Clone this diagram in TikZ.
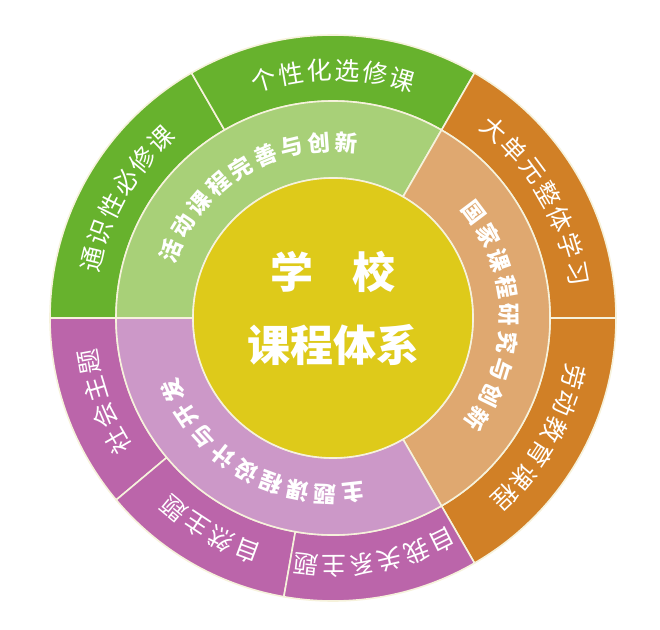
\documentclass[tikz,border=0pt]{standalone}
\usepackage{fontspec}
\newfontfamily\cjk{Noto Sans CJK SC}
\definecolor{cGreen}{HTML}{67B22D}
\definecolor{cLGreen}{HTML}{A8D078}
\definecolor{cYellow}{HTML}{DECA1A}
\definecolor{cTan}{HTML}{DFA870}
\definecolor{cOrange}{HTML}{D18026}
\definecolor{cLPurple}{HTML}{CC98C8}
\definecolor{cPurple}{HTML}{BB65AA}
\definecolor{cLine}{HTML}{F6F2DC}
\newcommand\ringsector[5]{% #1 r1, #2 r2, #3 a1, #4 a2, #5 color
  \filldraw[sector, fill=#5] (#3:#1pt) arc[start angle=#3, end angle=#4, radius=#1pt] -- (#4:#2pt) arc[start angle=#4, end angle=#3, radius=#2pt] -- cycle;}
\newcommand\arctext[6]{% #1 name, #2 radius, #3 start angle, #4 step, #5 style, #6 chars
  \foreach \ch [count=\i from 0] in {#6} {
    \pgfmathsetmacro\ang{#3-\i*#4}
    \node[#5, rotate=\ang-90] (#1-\i) at (\ang:#2pt) {\ch};
  }}
\begin{document}
\begin{tikzpicture}[
  sector/.style={draw=cLine, line width=1.6pt, line join=round},
  midtext/.style={text=white, font=\cjk\bfseries\fontsize{22.5}{22.5}\selectfont, inner sep=0pt},
  outtext/.style={text=white, font=\cjk\fontsize{25}{25}\selectfont, inner sep=0pt},
  titletext/.style={text=white, font=\cjk\bfseries\fontsize{43}{43}\selectfont, inner sep=0pt}]
\useasboundingbox (0,0) rectangle (660pt,629pt);
\begin{scope}[shift={(333pt,311pt)}]
  % outer ring
  \ringsector{217}{283}{120}{180}{cGreen}
  \ringsector{217}{283}{60}{120}{cGreen}
  \ringsector{217}{283}{0}{60}{cOrange}
  \ringsector{217}{283}{-60}{0}{cOrange}
  \ringsector{217}{283}{180}{220}{cPurple}
  \ringsector{217}{283}{220}{260}{cPurple}
  \ringsector{217}{283}{260}{300}{cPurple}
  % middle ring
  \ringsector{140}{217}{60}{180}{cLGreen}
  \ringsector{140}{217}{-60}{60}{cTan}
  \ringsector{140}{217}{180}{300}{cLPurple}
  % centre
  \filldraw[sector, fill=cYellow] (0,0) circle[radius=140pt];
  \node[titletext] (title1) at (0pt,46pt) {学\hspace{0.9em}校};
  \node[titletext] (title2) at (0pt,-27pt) {课程体系};
  % middle ring texts
  \arctext{m1}{176}{157.5}{9}{midtext}{活,动,课,程,完,善,与,创,新}
  \arctext{m2}{176}{37}{9}{midtext}{国,家,课,程,研,究,与,创,新}
  \arctext{m3}{176}{276.5}{9}{midtext}{主,题,课,程,设,计,与,开,发}
  % outer ring texts
  \arctext{o1}{248}{166.25}{6.5}{outtext}{通,识,性,必,修,课}
  \arctext{o2}{248}{106.25}{6.5}{outtext}{个,性,化,选,修,课}
  \arctext{o3}{248}{49.5}{6.5}{outtext}{大,单,元,整,体,学,习}
  \arctext{o4}{248}{-13.75}{6.5}{outtext}{劳,动,教,育,课,程}
  \arctext{o5}{248}{209.75}{6.5}{outtext}{社,会,主,题}
  \arctext{o6}{248}{249.75}{6.5}{outtext}{自,然,主,题}
  \arctext{o7}{248}{296.25}{6.5}{outtext}{自,我,关,系,主,题}
\end{scope}
\end{tikzpicture}
\end{document}
